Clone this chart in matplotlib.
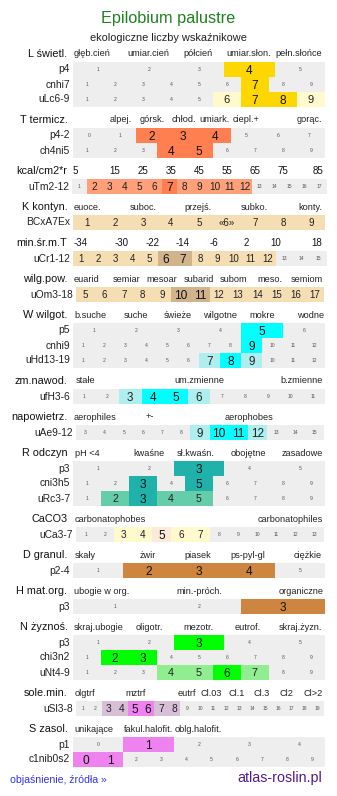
import matplotlib
matplotlib.use("Agg")
import matplotlib.pyplot as plt

plt.rcParams['font.family'] = ['Liberation Sans', 'DejaVu Sans']

# ---------------- data ----------------
title = "Epilobium palustre"
subtitle = "ekologiczne liczby wskaźnikowe"
footer_left = "objaśnienie, źródła »"
footer_right = "atlas-roslin.pl"

L_head = "L świetl."
L_cats = ["głęb.cień", "umiar.cień", "półcień", "umiar.słon.", "pełn.słońce"]
L_rows = ["p4", "cnhi7", "uLc6-9"]
L_lo = [1, 1, 1]
L_hi = [5, 9, 9]
L_main = [[4], [7], [7, 8]]
L_side = [[], [], [6, 9]]

T_head = "T termicz."
T_cats = ["alpej.", "górsk.", "chłod.", "umiark.", "ciepl.+", "gorąc."]
T_rows = ["p4-2", "ch4ni5"]
T_lo = [0, 1]
T_hi = [7, 9]
T_main = [[2, 3, 4], [4, 5]]
T_side = [[], []]

Tm_head = "kcal/cm2*r"
Tm_cats = ["5", "15", "25", "35", "45", "55", "65", "75", "85"]
Tm_rows = ["uTm2-12"]
Tm_lo = [1]
Tm_hi = [17]
Tm_main = [[7]]
Tm_side = [[2, 3, 4, 5, 6, 8, 9, 10, 11, 12]]

K_head = "K kontyn."
K_cats = ["euoce.", "suboc.", "przejś.", "subko.", "konty."]
K_rows = ["BCxA7Ex"]
K_lo = [1]
K_hi = [9]
K_main = [[]]
K_side = [[1, 2, 3, 4, 5, 6, 7, 8, 9]]
K_marked = {6: "«6»"}

Cr_head = "min.śr.m.T"
Cr_cats = ["-34", "-30", "-22", "-14", "-6", "2", "10", "18"]
Cr_rows = ["uCr1-12"]
Cr_lo = [1]
Cr_hi = [15]
Cr_main = [[6, 7]]
Cr_side = [[1, 2, 3, 4, 5, 8, 9, 10, 11, 12]]

Om_head = "wilg.pow."
Om_cats = ["euarid", "semiar", "mesoar", "subarid", "subom", "meso.", "semiom"]
Om_rows = ["uOm3-18"]
Om_lo = [5]
Om_hi = [17]
Om_main = [[10, 11]]
Om_side = [[5, 6, 7, 8, 9, 12, 13, 14, 15, 16, 17]]

W_head = "W wilgot."
W_cats = ["b.suche", "suche", "świeże", "wilgotne", "mokre", "wodne"]
W_rows = ["p5", "cnhi9", "uHd13-19"]
W_lo = [1, 1, 1]
W_hi = [6, 12, 12]
W_main = [[5], [9], [8]]
W_side = [[], [], [7, 9]]

fH_head = "zm.nawod."
fH_cats = ["stałe", "um.zmienne", "b.zmienne"]
fH_rows = ["ufH3-6"]
fH_lo = [1]
fH_hi = [11]
fH_main = [[4, 5]]
fH_side = [[3, 6]]

Ae_head = "napowietrz."
Ae_cats = ["aerophiles", "+-", "aerophobes"]
Ae_rows = ["uAe9-12"]
Ae_lo = [3]
Ae_hi = [15]
Ae_main = [[10, 11]]
Ae_side = [[9, 12]]

R_head = "R odczyn"
R_cats = ["pH <4", "kwaśne", "sł.kwaśn.", "obojętne", "zasadowe"]
R_rows = ["p3", "cni3h5", "uRc3-7"]
R_lo = [1, 1, 1]
R_hi = [5, 9, 9]
R_main = [[3], [3, 5], [3]]
R_side = [[], [], [2, 4, 5]]

Ca_head = "CaCO3"
Ca_cats = ["carbonatophobes", "carbonatophiles"]
Ca_rows = ["uCa3-7"]
Ca_lo = [1]
Ca_hi = [13]
Ca_main = [[5]]
Ca_side = [[3, 4, 6, 7]]

D_head = "D granul."
D_cats = ["skały", "żwir", "piasek", "ps-pyl-gl", "ciężkie"]
D_rows = ["p2-4"]
D_lo = [1]
D_hi = [5]
D_main = [[2, 3, 4]]
D_side = [[]]

H_head = "H mat.org."
H_cats = ["ubogie w org.", "min.-próch.", "organiczne"]
H_rows = ["p3"]
H_lo = [1]
H_hi = [3]
H_main = [[3]]
H_side = [[]]

N_head = "N żyznoś."
N_cats = ["skraj.ubogie", "oligotr.", "mezotr.", "eutrof.", "skraj.żyzn."]
N_rows = ["p3", "chi3n2", "uNt4-9"]
N_lo = [1, 1, 1]
N_hi = [5, 9, 9]
N_main = [[3], [2, 3], [6]]
N_side = [[], [], [4, 5, 7]]

Sl_head = "sole.min."
Sl_cats = ["olgtrf", "mztrf", "eutrf", "Cl.03", "Cl.1", "Cl.3", "Cl2", "Cl>2"]
Sl_rows = ["uSl3-8"]
Sl_lo = [1]
Sl_hi = [19]
Sl_main = [[5, 6]]
Sl_side = [[3, 4, 7, 8]]

S_head = "S zasol."
S_cats = ["unikające", "fakul.halofit.", "oblg.halofit."]
S_rows = ["p1", "c1nib0s2"]
S_lo = [0, 0]
S_hi = [4, 9]
S_main = [[1], [0, 1]]
S_side = [[], []]

# ---------------- layout / style ----------------
W, H = 337, 796
DPI = 100
fig = plt.figure(figsize=(W / DPI, H / DPI), dpi=DPI)
fig.patch.set_facecolor('white')

GREY = '#EEEEEE'
ROW_H = 15.0


def fx(x):
    return x / W


def fy(y):
    return 1 - y / H


# (head, cats, cat_x, numeric_cats, rows, lo, hi, main, side, x0, x1, cmain, cside, side_fs, marked)
sections = [
    (L_head, L_cats, [92.5, 148, 198, 249, 299], False, L_rows, L_lo, L_hi, L_main, L_side,
     73, 325, '#FFD700', '#FFFACD', 8.0, {}),
    (T_head, T_cats, [121, 152, 184, 214.5, 246, 309], False, T_rows, T_lo, T_hi, T_main, T_side,
     73, 325, '#FF7F50', '#FFA07A', 7.4, {}),
    (Tm_head, Tm_cats, [75, 115, 143, 171, 199, 227, 255, 283, 318], True, Tm_rows, Tm_lo, Tm_hi,
     Tm_main, Tm_side, 72, 327, '#FF7F50', '#FFA07A', 7.2, {}),
    (K_head, K_cats, [87, 143, 198, 254.5, 310], False, K_rows, K_lo, K_hi, K_main, K_side,
     73, 325, '#D2B48C', '#F5DEB3', 7.0, K_marked),
    (Cr_head, Cr_cats, [81, 122, 153, 183, 214, 246, 276, 317], True, Cr_rows, Cr_lo, Cr_hi,
     Cr_main, Cr_side, 73, 327, '#D2B48C', '#F5DEB3', 7.0, {}),
    (Om_head, Om_cats, [86, 127, 162, 199, 233, 270, 307], False, Om_rows, Om_lo, Om_hi,
     Om_main, Om_side, 76, 324, '#D2B48C', '#F5DEB3', 7.0, {}),
    (W_head, W_cats, [90, 136, 178, 220, 262, 311], False, W_rows, W_lo, W_hi, W_main, W_side,
     73, 325, '#00FFFF', '#AFEEEE', 8.4, {}),
    (fH_head, fH_cats, [85, 199, 302], False, fH_rows, fH_lo, fH_hi, fH_main, fH_side,
     73, 325, '#00FFFF', '#AFEEEE', 8.4, {}),
    (Ae_head, Ae_cats, [95, 150, 249], False, Ae_rows, Ae_lo, Ae_hi, Ae_main, Ae_side,
     76, 324, '#00FFFF', '#AFEEEE', 8.4, {}),
    (R_head, R_cats, [87, 149, 196, 248, 302], False, R_rows, R_lo, R_hi, R_main, R_side,
     73, 325, '#20B2AA', '#66CDAA', 7.6, {}),
    (Ca_head, Ca_cats, [110, 290], False, Ca_rows, Ca_lo, Ca_hi, Ca_main, Ca_side,
     76, 324, '#FDEBDA', '#FFFACD', 7.2, {}),
    (D_head, D_cats, [85, 148, 198, 248, 308], False, D_rows, D_lo, D_hi, D_main, D_side,
     73, 325, '#CD853F', '#CD853F', 8.4, {}),
    (H_head, H_cats, [102, 199, 301], False, H_rows, H_lo, H_hi, H_main, H_side,
     73, 325, '#CD853F', '#CD853F', 8.4, {}),
    (N_head, N_cats, [99, 149, 198, 248, 300], False, N_rows, N_lo, N_hi, N_main, N_side,
     73, 325, '#00FF00', '#90EE90', 7.8, {}),
    (Sl_head, Sl_cats, [84.5, 136, 187, 211, 237, 261.5, 286, 313], False, Sl_rows, Sl_lo, Sl_hi,
     Sl_main, Sl_side, 76, 324, '#EE82EE', '#D8BFD8', 7.4, {}),
    (S_head, S_cats, [94, 148.5, 198.5], False, S_rows, S_lo, S_hi, S_main, S_side,
     73, 325, '#EE82EE', '#EE82EE', 8.4, {}),
]

MAIN_FS = 8.6
TINY_FS = 3.6


def baseline_y(fs):
    # axes-fraction baseline so that digits are vertically centred in a 15 px row
    digit_h = 0.716 * fs * DPI / 72.0
    return 0.5 - (digit_h / 2) / ROW_H


def draw_row(label, lo, hi, main, side, ycen, x0, x1, cmain, cside, side_fs, marked):
    ax = fig.add_axes([fx(x0), fy(ycen + ROW_H / 2), (x1 - x0) / W, ROW_H / H])
    ax.set_xlim(lo - 0.5, hi + 0.5)
    ax.set_ylim(0, 1)
    ax.axis('off')
    classes = list(range(lo, hi + 1))
    colors = [cmain if c in main else (cside if c in side else GREY) for c in classes]
    ax.bar(classes, [1] * len(classes), width=1.0, bottom=0, color=colors,
           linewidth=0, antialiased=False)
    for c in classes:
        txt = marked.get(c, str(c))
        if c in main:
            fs, col = MAIN_FS, '#111111'
        elif c in side:
            fs, col = side_fs, '#222222'
        else:
            fs, col = TINY_FS, '#555555'
        ax.text(c, baseline_y(fs), txt, ha='center', va='baseline', fontsize=fs, color=col)
    fig.text(fx(x0 - 3), fy(ycen), label, ha='right', va='center', fontsize=7.4, color='#222222')


# title
fig.text(fx(168.5), fy(19), title, ha='center', va='center', fontsize=11.7, color='#1f801f')
fig.text(fx(168.5), fy(38), subtitle, ha='center', va='center', fontsize=7.9, color='#222222')

hy = 54.0
for (head, cats, cat_x, numeric, rows, lo, hi, main, side, x0, x1, cmain, cside, side_fs,
     marked) in sections:
    fig.text(fx(67.5), fy(hy), head, ha='right', va='center', fontsize=7.8, color='#111111')
    for name, cx in zip(cats, cat_x):
        if numeric:
            fig.text(fx(cx), fy(hy), name, ha='center', va='center', fontsize=7.0, color='#111111')
        else:
            fig.text(fx(cx), fy(hy), name, ha='center', va='center', fontsize=6.6, color='#222222')
    yc = hy + 15.5
    for i, lab in enumerate(rows):
        draw_row(lab, lo[i], hi[i], main[i], side[i], yc, x0, x1, cmain, cside, side_fs, marked)
        yc += ROW_H
    hy = yc - ROW_H + 20.5

fig.text(fx(10), fy(780), footer_left, ha='left', va='center', fontsize=7.6, color='#3333DD')
fig.text(fx(322), fy(778), footer_right, ha='right', va='center', fontsize=10.3, color='#551A8B')

fig.savefig("out.png", dpi=DPI, facecolor='white')
